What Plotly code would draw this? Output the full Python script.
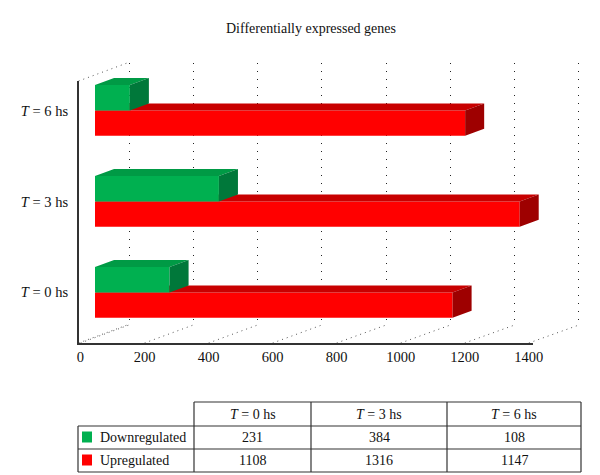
import plotly.graph_objects as go

# ── Data ──────────────────────────────────────────────────────────────────────
times = ["<i>T</i> = 0 hs", "<i>T</i> = 3 hs", "<i>T</i> = 6 hs"]
down = [231, 384, 108]
up = [1108, 1316, 1147]
series_names = ["Downregulated", "Upregulated"]
x_ticks = [0, 200, 400, 600, 800, 1000, 1200, 1400]

# ── Geometry ──────────────────────────────────────────────────────────────────
# The page body has an 8px margin, so the figure is 8px smaller and every
# reference pixel position is shifted by that margin.
PAGE_PAD = 8
W, H = 600 - PAGE_PAD, 475 - PAGE_PAD
X_RANGE = [-6, 1412]
Y_RANGE = [-0.49, 2.39]
BAR_W = 0.279          # thickness of one bar, category units
BAR_DX = 59            # bar depth, value units
BAR_DY = 0.077         # bar depth, category units
FONT = "Liberation Serif, Times New Roman, serif"
INK = "#111"
LINE = "#333"

GREEN = dict(front="#00B050", top="#009A45", side="#00783A")
RED = dict(front="#FF0000", top="#C80000", side="#9E0000")


def px(x):
    return (x - PAGE_PAD) / W


def py(y):
    return 1 - (y - PAGE_PAD) / H


def xdom(zero, scale):
    """x domain for an axis whose value 0 sits at pixel `zero`."""
    return [px(zero + X_RANGE[0] * scale), px(zero + X_RANGE[1] * scale)]


def ydom(top, bottom):
    return [py(bottom), py(top)]


front_x, front_y = xdom(80.5, 0.3202), ydom(81, 343)
back_x, back_y = xdom(129, 0.3214), ydom(63, 325)
bar_x, bar_y = xdom(95, 0.3227), ydom(75, 337)


def to_paper(v, dom, rng):
    return dom[0] + (v - rng[0]) / (rng[1] - rng[0]) * (dom[1] - dom[0])


def faces(values, offset):
    """Top and side faces of the pseudo-3D bars, from the bar values."""
    tx, ty, sx, sy = [], [], [], []
    for i, v in enumerate(values):
        y0 = i + offset
        y1 = y0 + BAR_W
        tx += [0, v, v + BAR_DX, BAR_DX, 0, None]
        ty += [y1, y1, y1 + BAR_DY, y1 + BAR_DY, y1, None]
        sx += [v, v, v + BAR_DX, v + BAR_DX, v, None]
        sy += [y0, y1, y1 + BAR_DY, y0 + BAR_DY, y0, None]
    return (tx, ty), (sx, sy)


def add_series(fig, values, offset, colors, xa, ya, name):
    fig.add_trace(go.Bar(
        x=values, y=list(range(len(values))), orientation="h",
        base=0, width=BAR_W, offset=offset, name=name,
        marker=dict(color=colors["front"], line_width=0),
        xaxis=xa, yaxis=ya, showlegend=False, hoverinfo="x",
    ))
    (tx, ty), (sx, sy) = faces(values, offset)
    for fx, fy, c in ((tx, ty, colors["top"]), (sx, sy, colors["side"])):
        fig.add_trace(go.Scatter(
            x=fx, y=fy, mode="lines", fill="toself", fillcolor=c,
            line=dict(width=0, color=c), xaxis=xa, yaxis=ya,
            showlegend=False, hoverinfo="skip",
        ))


fig = go.Figure()

# empty traces so the wall axes exist
for xa, ya in (("x", "y"), ("x2", "y2")):
    fig.add_trace(go.Scatter(x=[None], y=[None], xaxis=xa, yaxis=ya,
                             showlegend=False, hoverinfo="skip"))

add_series(fig, up, -BAR_W, RED, "x3", "y3", "Upregulated")
add_series(fig, down, 0, GREEN, "x4", "y4", "Downregulated")

# ── Walls: floor and top diagonals ───────────────────────────────────────────
shapes = []
dot = dict(color="#555", width=1, dash="1px,4px")
for t in x_ticks + [X_RANGE[0]]:
    shapes.append(dict(
        type="line", xref="paper", yref="paper", layer="below",
        x0=to_paper(t, front_x, X_RANGE), y0=front_y[0],
        x1=to_paper(t, back_x, X_RANGE), y1=back_y[0], line=dot,
    ))
shapes.append(dict(
    type="line", xref="paper", yref="paper", layer="below",
    x0=front_x[0], y0=front_y[1], x1=back_x[0], y1=back_y[1], line=dot,
))

# ── Data table (drawn with lines and text) ───────────────────────────────────
col_x = [78, 194, 311, 447, 581]
row_y = [402, 426, 449, 472]
border = dict(color=LINE, width=1.2)


def hline(y, a, b):
    shapes.append(dict(type="line", xref="paper", yref="paper",
                       x0=px(a), x1=px(b), y0=py(y), y1=py(y), line=border))


def vline(x, a, b):
    shapes.append(dict(type="line", xref="paper", yref="paper",
                       x0=px(x), x1=px(x), y0=py(a), y1=py(b), line=border))


hline(row_y[0], col_x[1], col_x[-1])
for y in row_y[1:]:
    hline(y, col_x[0], col_x[-1])
vline(col_x[0], row_y[1], row_y[-1])
for x in col_x[1:]:
    vline(x, row_y[0], row_y[-1])

annotations = []
tfont = dict(family=FONT, size=14, color=INK)


def cell_text(text, x, y, anchor="center"):
    annotations.append(dict(text=text, x=px(x), y=py(y), xref="paper",
                            yref="paper", showarrow=False, xanchor=anchor,
                            yanchor="middle", font=tfont))


for j, t in enumerate(times):
    cell_text(t, (col_x[j + 1] + col_x[j + 2]) / 2, (row_y[0] + row_y[1]) / 2)

table_rows = [down, up]
for r, (name, vals, col) in enumerate(zip(series_names, table_rows,
                                          (GREEN, RED))):
    yc = (row_y[r + 1] + row_y[r + 2]) / 2
    shapes.append(dict(type="rect", xref="paper", yref="paper",
                       x0=px(82), x1=px(92), y0=py(yc - 6), y1=py(yc + 5),
                       fillcolor=col["front"], line_width=0))
    cell_text(name, 98, yc, anchor="left")
    for j, v in enumerate(vals):
        cell_text(str(v), (col_x[j + 1] + col_x[j + 2]) / 2, yc)

hidden = dict(visible=False, range=X_RANGE, fixedrange=True, automargin=False)
hidden_y = dict(visible=False, range=Y_RANGE, fixedrange=True,
                automargin=False)

fig.update_layout(
    template="none",
    width=W, height=H, autosize=False,
    margin=dict(l=0, r=0, t=0, b=0, pad=0),
    paper_bgcolor="white", plot_bgcolor="rgba(0,0,0,0)",
    font=dict(family=FONT, color=INK),
    title=dict(text="Differentially expressed genes", x=px(311), y=py(28),
               xanchor="center", yanchor="middle",
               font=dict(family=FONT, size=14, color=INK)),
    xaxis=dict(domain=front_x, range=X_RANGE, anchor="y", showgrid=False,
               zeroline=False, showline=True, linecolor=LINE, linewidth=1.5,
               tickvals=x_ticks, ticks="", tickfont=dict(size=14.5, color=INK),
               fixedrange=True, automargin=False),
    yaxis=dict(domain=front_y, range=Y_RANGE, anchor="x", showgrid=False,
               zeroline=False, showline=True, linecolor=LINE, linewidth=1.5,
               showticklabels=False, ticks="", fixedrange=True,
               automargin=False),
    xaxis2=dict(domain=back_x, range=X_RANGE, anchor="y2", showgrid=True,
                gridcolor="#222", griddash="1px,7px", gridwidth=1.2,
                tickvals=x_ticks, showticklabels=False, zeroline=False,
                showline=False, fixedrange=True, automargin=False),
    yaxis2=dict(domain=back_y, anchor="x2", **hidden_y),
    xaxis3=dict(domain=bar_x, anchor="y3", **hidden),
    yaxis3=dict(domain=bar_y, anchor="x3", range=Y_RANGE, fixedrange=True,
                showgrid=False, zeroline=False, showline=False,
                tickvals=list(range(len(times))), ticktext=times, ticks="",
                ticklabelstandoff=24, tickfont=dict(size=14.5, color=INK),
                automargin=False),
    xaxis4=dict(overlaying="x3", anchor="y4", **hidden),
    yaxis4=dict(overlaying="y3", anchor="x4", **hidden_y),
    shapes=shapes,
    annotations=annotations,
    showlegend=False,
)

fig.write_html("out.html")
